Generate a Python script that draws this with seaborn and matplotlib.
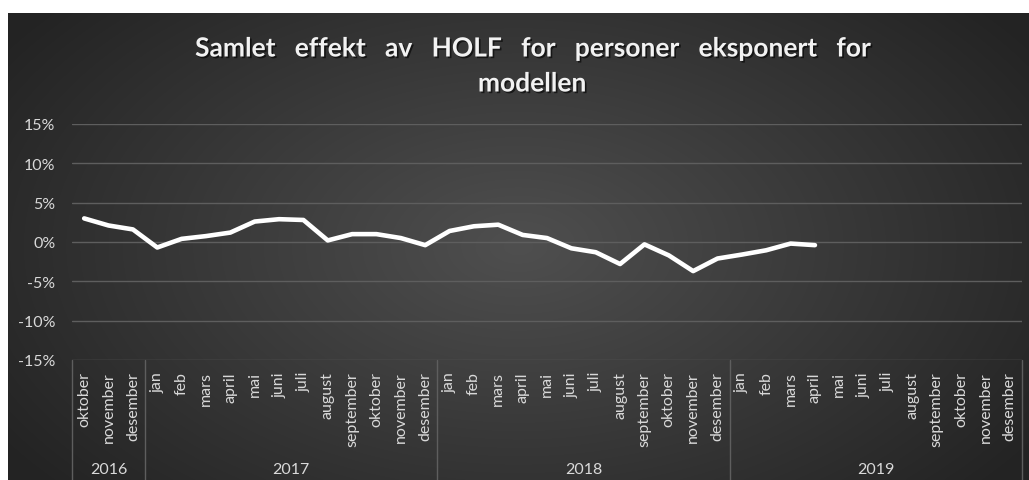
import numpy as np
import pandas as pd
import matplotlib
matplotlib.use("Agg")
import matplotlib.pyplot as plt
import matplotlib.patheffects as pe
import matplotlib.transforms as mtransforms
from matplotlib.ticker import FuncFormatter
import seaborn as sns

# Month names per year on the category axis
months_2016 = ["oktober", "november", "desember"]
months_full = ["jan", "feb", "mars", "april", "mai", "juni", "juli",
               "august", "september", "oktober", "november", "desember"]
years = ["2016", "2017", "2018", "2019"]
year_months = [months_2016, months_full, months_full, months_full]

# Total effect (%), oktober 2016 - april 2019
effekt = [3.0, 2.1, 1.6,
          -0.7, 0.4, 0.75, 1.2, 2.6, 2.9, 2.8, 0.2, 1.0, 1.0, 0.5, -0.4,
          1.4, 2.0, 2.2, 0.9, 0.5, -0.8, -1.3, -2.8, -0.3, -1.7, -3.7, -2.1,
          -1.6, -1.05, -0.2, -0.4]

y_ticks = [-15, -10, -5, 0, 5, 10, 15]

month_labels = [m for ms in year_months for m in ms]
n_cat = len(month_labels)
df = pd.DataFrame({"pos": np.arange(len(effekt)), "effekt": effekt})

sns.set_theme(style="dark")
plt.rcParams["font.family"] = ["Lato", "DejaVu Sans"]

W, H = 1029, 481
fig = plt.figure(figsize=(W / 100, H / 100), dpi=100, facecolor="white")

# Dark radial-gradient backdrop
bg = fig.add_axes([8 / W, 0, (W - 8) / W, (H - 14) / H])
gx, gy = np.meshgrid(np.linspace(-1, 1, 600), np.linspace(-1, 1, 300))
r = np.sqrt((gx / 1.0) ** 2 + (gy / 1.3) ** 2)
shade = 0.31 - 0.17 * np.clip(r, 0, 1.2) / 1.2
bg.imshow(np.dstack([shade] * 3), aspect="auto", extent=[0, 1, 0, 1],
          interpolation="bilinear")
bg.set_axis_off()

txt = "#d9d9d9"
grid_c = "#5e5e5e"

ax = fig.add_axes([72 / W, (H - 361) / H, 950 / W, 236 / H])
ax.set_facecolor("none")
sns.lineplot(data=df, x="pos", y="effekt", ax=ax, color="white",
             linewidth=3.3, solid_capstyle="round", solid_joinstyle="round")

ax.set_xlim(-0.5, n_cat - 0.5)
ax.set_ylim(-15, 15)
ax.set_yticks(y_ticks)
ax.yaxis.set_major_formatter(FuncFormatter(lambda v, _: f"{v:.0f}%"))
ax.set_xticks(np.arange(n_cat))
ax.set_xticklabels(month_labels, rotation=90)
ax.tick_params(axis="x", length=0, pad=8, labelsize=11.5, colors=txt)
ax.tick_params(axis="y", length=0, pad=12, labelsize=11.5, colors=txt)
ax.set_xlabel("")
ax.set_ylabel("")
ax.grid(False)
for v in y_ticks:
    ax.axhline(v, color=grid_c, linewidth=1.0, zorder=0)
for s in ax.spines.values():
    s.set_visible(False)

# Year groups under the month labels
trans = mtransforms.blended_transform_factory(ax.transData, ax.transAxes)
bounds = [-0.5]
for ms in year_months:
    bounds.append(bounds[-1] + len(ms))
for b in bounds:
    ax.plot([b, b], [0, -0.51], transform=trans, color=grid_c,
            linewidth=1.0, clip_on=False)
for yr, lo, hi in zip(years, bounds[:-1], bounds[1:]):
    ax.text((lo + hi) / 2, -0.462, yr, transform=trans, ha="center",
            va="center", fontsize=11.5, color=txt)

fig.text(532 / W, (H - 67) / H,
         "Samlet   effekt   av   HOLF   for   personer   eksponert   for\nmodellen",
         ha="center", va="center", fontsize=19, fontweight="bold",
         color="#f2f2f2", linespacing=1.55,
         path_effects=[pe.withSimplePatchShadow(offset=(1.2, -1.2),
                                                shadow_rgbFace="black",
                                                alpha=0.6)])

fig.savefig("out.png", dpi=100, facecolor=fig.get_facecolor())
